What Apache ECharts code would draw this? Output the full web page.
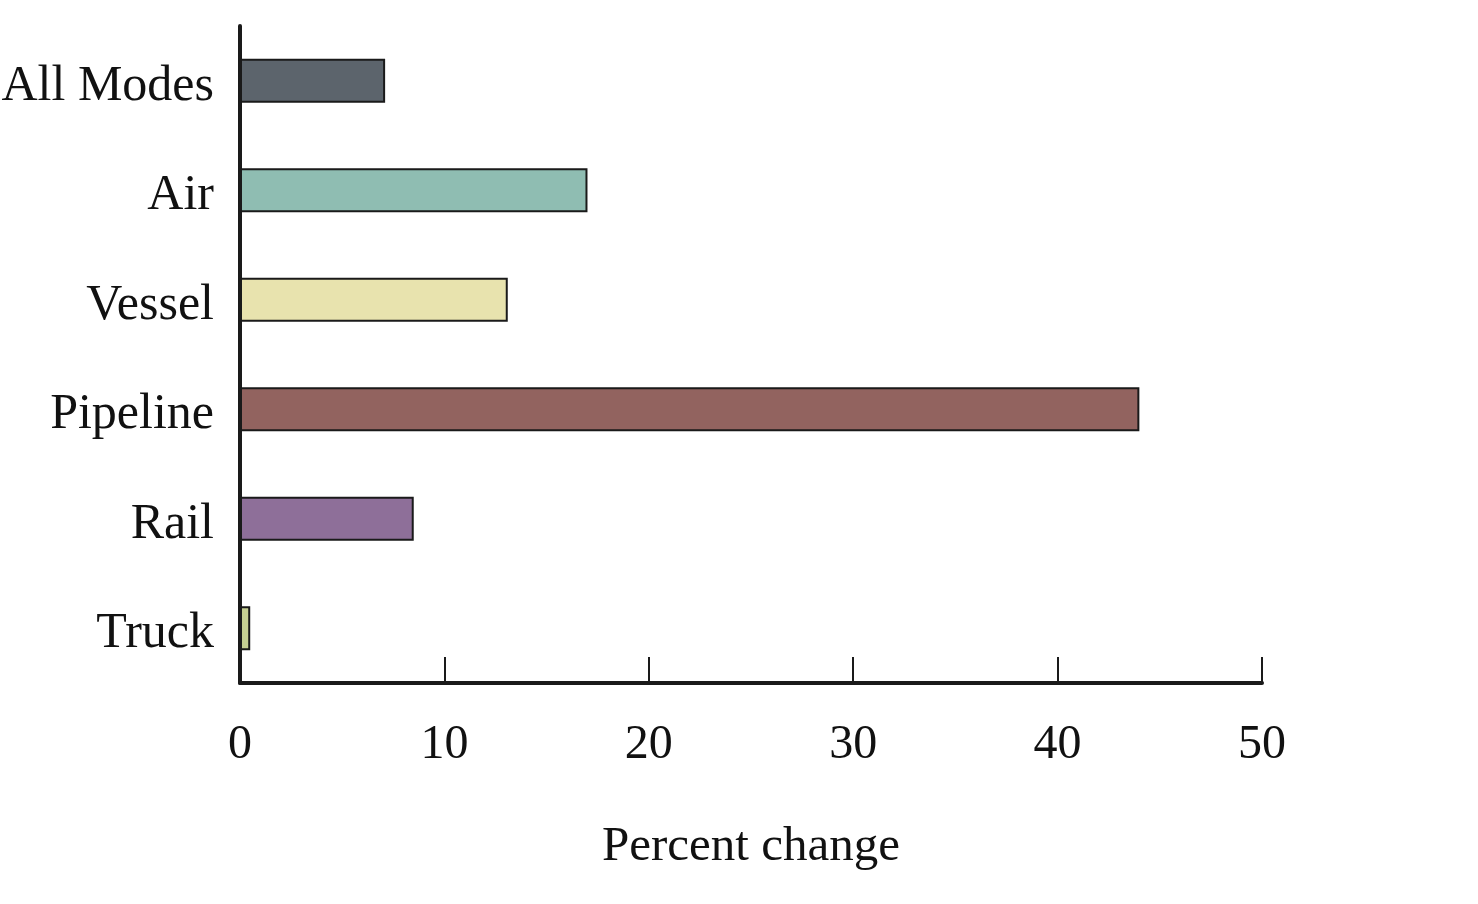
<!DOCTYPE html>
<html>
<head>
<meta charset="utf-8">
<script src="https://cdn.jsdelivr.net/npm/echarts@6/dist/echarts.min.js"></script>
<style>
html,body{margin:0;padding:0;background:#fff;}
#chart{width:1478px;height:904px;}
</style>
</head>
<body>
<div id="chart"></div>
<script>
const categories = ["All Modes", "Air", "Vessel", "Pipeline", "Rail", "Truck"];
const values = [7.1, 17.0, 13.1, 44.0, 8.5, 0.5];
const barColors = ["#5c646c", "#8fbdb2", "#e8e3ae", "#92635f", "#8e6f99", "#c5cf92"];
const xTicks = [0, 10, 20, 30, 40, 50];
const xAxisName = "Percent change";

const font = "'Liberation Serif', 'Times New Roman', serif";
const chart = echarts.init(document.getElementById('chart'));
chart.setOption({
  animation: false,
  backgroundColor: '#fff',
  grid: { left: 240, right: 216, top: 26, bottom: 221, containLabel: false, outerBoundsMode: 'none' },
  xAxis: {
    type: 'value',
    min: xTicks[0],
    max: xTicks[xTicks.length - 1],
    interval: xTicks[1] - xTicks[0],
    name: xAxisName,
    nameLocation: 'middle',
    nameGap: 140,
    nameTextStyle: { fontFamily: font, fontSize: 49, color: '#111' },
    axisLine: { show: true, lineStyle: { color: '#1a1a1a', width: 4 } },
    axisTick: { show: true, inside: true, length: 26, lineStyle: { color: '#1a1a1a', width: 2 } },
    axisLabel: { fontFamily: font, fontSize: 48, color: '#111', margin: 38 },
    splitLine: { show: false }
  },
  yAxis: {
    type: 'category',
    data: categories,
    inverse: true,
    axisLine: { show: true, lineStyle: { color: '#1a1a1a', width: 4 } },
    axisTick: { show: false },
    axisLabel: { fontFamily: font, fontSize: 50, color: '#111', margin: 26, verticalAlign: 'top', lineHeight: 12 },
    splitLine: { show: false }
  },
  series: [{
    type: 'bar',
    data: values.map((v, i) => ({ value: v, itemStyle: { color: barColors[i] } })),
    barWidth: 44,
    itemStyle: { borderColor: '#1a1a1a', borderWidth: 2 }
  }]
});
</script>
</body>
</html>
